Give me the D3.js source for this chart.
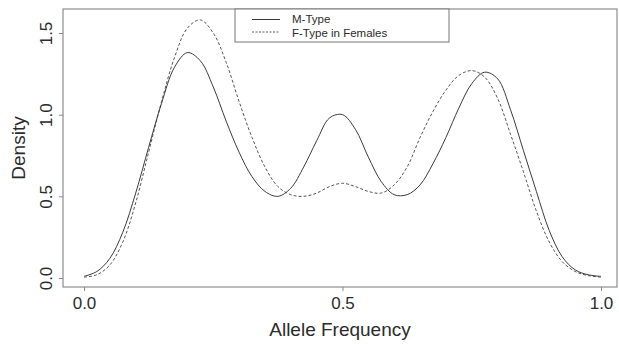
<!DOCTYPE html>
<html>
<head>
<meta charset="utf-8">
<script src="https://cdn.jsdelivr.net/npm/d3@7"></script>
<style>
  html, body { margin: 0; padding: 0; background: #fff; }
  svg { display: block; font-family: "Liberation Sans", Arial, sans-serif; }
</style>
</head>
<body>
<svg id="chart" width="619" height="345"></svg>
<script>
// ---- data ----
const alleleFreq = [0.000,0.025,0.050,0.075,0.100,0.125,0.150,0.175,0.200,0.225,
  0.250,0.275,0.300,0.325,0.350,0.375,0.400,0.425,0.450,0.475,
  0.500,0.525,0.550,0.575,0.600,0.625,0.650,0.675,0.700,0.725,
  0.750,0.775,0.800,0.825,0.850,0.875,0.900,0.925,0.950,0.975,1.000];
const mTypeDensity = [0.01,0.04,0.12,0.28,0.52,0.80,1.07,1.29,1.38,1.33,
  1.17,0.96,0.77,0.62,0.53,0.50,0.55,0.68,0.84,0.98,
  1.00,0.91,0.74,0.59,0.51,0.51,0.57,0.70,0.86,1.04,
  1.19,1.26,1.22,1.03,0.78,0.53,0.29,0.13,0.05,0.02,0.01];
const fTypeDensity = [0.005,0.02,0.08,0.22,0.46,0.77,1.08,1.35,1.53,1.58,
  1.50,1.32,1.08,0.86,0.68,0.56,0.51,0.50,0.52,0.56,
  0.58,0.56,0.53,0.52,0.57,0.68,0.86,1.02,1.15,1.24,
  1.27,1.23,1.10,0.88,0.65,0.41,0.22,0.10,0.04,0.015,0.005];
const seriesNames = ["M-Type", "F-Type in Females"];
const xTicks = [0, 0.5, 1.0];
const yTicks = [0, 0.5, 1.0, 1.5];
const xTitle = "Allele Frequency";
const yTitle = "Density";

// ---- layout ----
const svg = d3.select("#chart");
const box = {left: 63, right: 617, top: 9, bottom: 287};
const x = d3.scaleLinear().domain([0, 1]).range([84, 601]);
const y = d3.scaleLinear().domain([0, 1.5]).range([278, 33]);
const ink = "#2b2b2b";

// plot box
svg.append("rect")
  .attr("x", box.left).attr("y", box.top)
  .attr("width", box.right - box.left).attr("height", box.bottom - box.top)
  .attr("fill", "none").attr("stroke", "#777").attr("stroke-width", 1);

// x axis
const gx = svg.append("g").attr("transform", `translate(0,${box.bottom})`)
  .call(d3.axisBottom(x).tickValues(xTicks).tickFormat(d3.format(".1f"))
        .tickSize(4).tickSizeOuter(0).tickPadding(6));
gx.select(".domain").remove();
gx.selectAll("line").attr("stroke", "#888");
gx.selectAll("text").attr("font-size", 17).attr("fill", ink)
  .attr("font-family", "Liberation Sans, Arial, sans-serif");

// y axis
const gy = svg.append("g").attr("transform", `translate(${box.left},0)`)
  .call(d3.axisLeft(y).tickValues(yTicks).tickFormat(d3.format(".1f"))
        .tickSize(4).tickSizeOuter(0));
gy.select(".domain").remove();
gy.selectAll("line").attr("stroke", "#888");
gy.selectAll("text").attr("font-size", 17).attr("fill", ink)
  .attr("font-family", "Liberation Sans, Arial, sans-serif")
  .attr("x", 0).attr("dy", 0)
  .attr("text-anchor", "middle")
  .attr("transform", "translate(-11,0) rotate(-90)");

// titles
svg.append("text").attr("x", 340).attr("y", 336)
  .attr("text-anchor", "middle").attr("font-size", 19).attr("fill", ink)
  .text(xTitle);
svg.append("text")
  .attr("transform", `translate(25,148) rotate(-90)`)
  .attr("text-anchor", "middle").attr("font-size", 19).attr("fill", ink)
  .text(yTitle);

// curves
const line = d3.line().curve(d3.curveCatmullRom.alpha(0.5));
const mPts = alleleFreq.map((f, i) => [x(f), y(mTypeDensity[i])]);
const fPts = alleleFreq.map((f, i) => [x(f), y(fTypeDensity[i])]);
svg.append("path").attr("d", line(fPts)).attr("fill", "none")
  .attr("stroke", "#555").attr("stroke-width", 1).attr("stroke-dasharray", "3,2");
svg.append("path").attr("d", line(mPts)).attr("fill", "none")
  .attr("stroke", "#3a3a3a").attr("stroke-width", 1);

// legend
const lg = svg.append("g");
lg.append("rect").attr("x", 235).attr("y", box.top).attr("width", 214).attr("height", 33)
  .attr("fill", "#fff").attr("stroke", "#777").attr("stroke-width", 1);
const legendItems = [
  {name: seriesNames[0], dash: null, color: "#3a3a3a", ly: 19.5, ty: 22.5},
  {name: seriesNames[1], dash: "2,1.5", color: "#555", ly: 32, ty: 36.5}
];
legendItems.forEach(it => {
  lg.append("line").attr("x1", 252).attr("x2", 280).attr("y1", it.ly).attr("y2", it.ly)
    .attr("stroke", it.color).attr("stroke-width", 1)
    .attr("stroke-dasharray", it.dash);
  lg.append("text").attr("x", 292).attr("y", it.ty).attr("font-size", 11.5)
    .attr("fill", ink).text(it.name);
});
</script>
</body>
</html>
